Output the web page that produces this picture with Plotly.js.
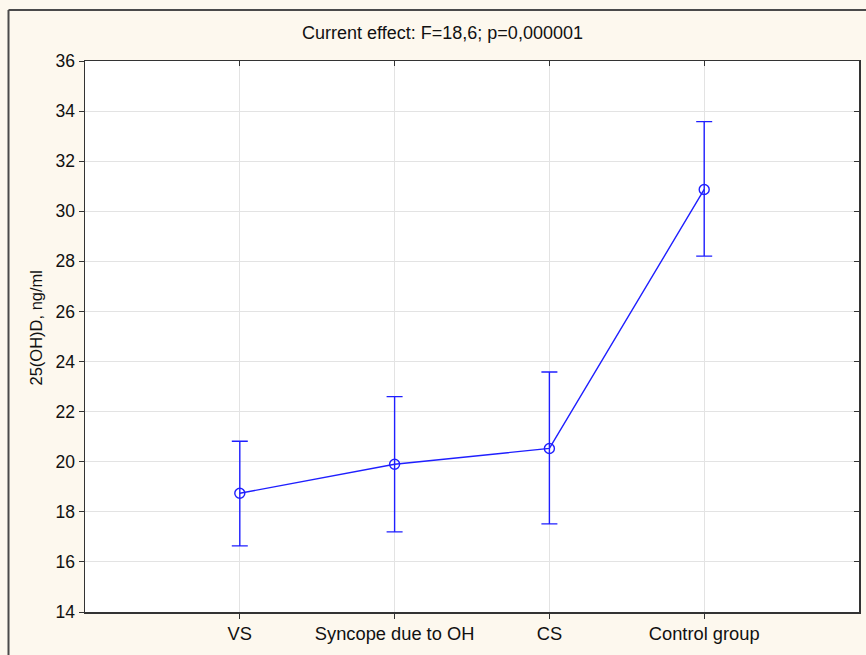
<!DOCTYPE html>
<html>
<head>
<meta charset="utf-8">
<script src="https://cdn.plot.ly/plotly-3.0.1.min.js"></script>
<style>
  html, body { margin: 0; padding: 0; background: #fdf8ee; overflow: hidden; }
  #chart { width: 866px; height: 655px; }
</style>
</head>
<body>
<div id="chart"></div>
<script>
const categories = ["VS", "Syncope due to OH", "CS", "Control group"];
const means = [18.74, 19.90, 20.53, 30.87];
const upper = [20.82, 22.60, 23.58, 33.58];
const lower = [16.64, 17.20, 17.52, 28.21];
const yTicks = [14, 16, 18, 20, 22, 24, 26, 28, 30, 32, 34, 36];

const plus = means.map((m, i) => upper[i] - m);
const minus = means.map((m, i) => m - lower[i]);
const xIdx = categories.map((c, i) => i);

const blue = "#1f1fff";
const fam = "Liberation Sans, Arial, sans-serif";

const traces = [
  {
    x: xIdx, y: means, type: "scatter", mode: "lines+markers",
    line: { color: blue, width: 1.4 },
    marker: { symbol: "circle-open", size: 10, color: blue, line: { width: 1.4, color: blue } },
    error_y: { type: "data", symmetric: false, array: plus, arrayminus: minus,
               color: blue, thickness: 1.4, width: 8 },
    hoverinfo: "x+y", showlegend: false
  },
  {
    x: xIdx, y: means, xaxis: "x2", yaxis: "y2", type: "scatter", mode: "markers",
    marker: { opacity: 0 }, hoverinfo: "skip", showlegend: false
  }
];

const W = 774, H = 551;
const layout = {
  width: 866, height: 655,
  paper_bgcolor: "#fdf8ee", plot_bgcolor: "#ffffff",
  margin: { l: 85, r: 7, t: 61, b: 43 },
  title: { text: "Current effect: F=18,6; p=0,000001", x: 0.511, xanchor: "center",
           y: 1 - 33 / 655, yanchor: "middle", yref: "container",
           font: { family: fam, size: 18, color: "#111" } },
  xaxis: {
    range: [-1, 4], tickmode: "array", tickvals: xIdx, ticktext: categories,
    showgrid: true, gridcolor: "#e3e3e3", gridwidth: 1,
    showline: true, linecolor: "#333", linewidth: 1.5, mirror: true,
    ticks: "outside", ticklen: 5, tickcolor: "#333", tickwidth: 1,
    tickfont: { family: fam, size: 18.3, color: "#111" }, zeroline: false, fixedrange: true
  },
  yaxis: {
    range: [14, 36], tickmode: "array", tickvals: yTicks,
    showgrid: true, gridcolor: "#e3e3e3", gridwidth: 1,
    showline: true, linecolor: "#333", linewidth: 1.5, mirror: true,
    ticks: "outside", ticklen: 5, tickcolor: "#333", tickwidth: 1,
    tickfont: { family: fam, size: 17.5, color: "#111" }, zeroline: false, fixedrange: true
  },
  xaxis2: {
    overlaying: "x", side: "top", anchor: "y2", range: [-1, 4],
    tickmode: "array", tickvals: xIdx, showticklabels: false,
    showgrid: false, zeroline: false, showline: false,
    ticks: "inside", ticklen: 5, tickcolor: "#333", tickwidth: 1, fixedrange: true
  },
  yaxis2: {
    overlaying: "y", side: "right", anchor: "x2", range: [14, 36],
    tickmode: "array", tickvals: yTicks, showticklabels: false,
    showgrid: false, zeroline: false, showline: false,
    ticks: "inside", ticklen: 5, tickcolor: "#333", tickwidth: 1, fixedrange: true
  },
  annotations: [
    { text: "25(OH)D, ng/ml", xref: "paper", yref: "paper",
      x: (35 - 85) / W, y: (612 - 327.5) / H, xanchor: "center", yanchor: "middle",
      textangle: -90, showarrow: false, font: { family: fam, size: 16.5, color: "#111" } }
  ],
  shapes: [
    { type: "line", xref: "paper", yref: "paper",
      x0: (8.5 - 85) / W, x1: (8.5 - 85) / W, y0: -0.5, y1: 1 + (61 - 10) / H,
      line: { color: "#4a4a4a", width: 2 }, layer: "below" },
    { type: "line", xref: "paper", yref: "paper",
      x0: (8.5 - 85) / W, x1: 2, y0: 1 + (61 - 10) / H, y1: 1 + (61 - 10) / H,
      line: { color: "#4a4a4a", width: 2 }, layer: "below" }
  ]
};

Plotly.newPlot("chart", traces, layout, { displayModeBar: false, staticPlot: true });
</script>
</body>
</html>
